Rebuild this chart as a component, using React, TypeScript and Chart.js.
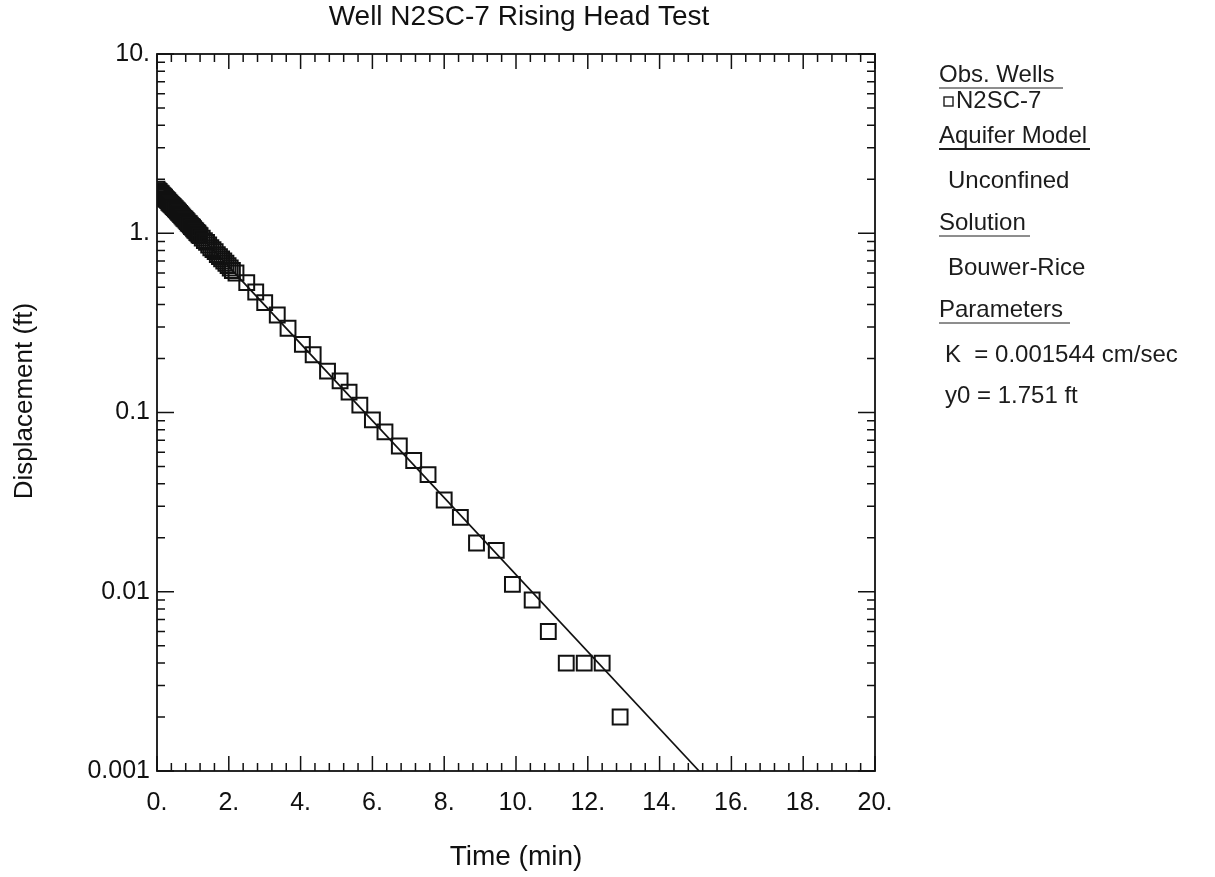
import React, { useEffect, useRef } from "react";
import { Chart, registerables } from "chart.js";

Chart.register(...registerables);

// Observed displacement for well N2SC-7 (minutes, feet)
const timeMin = [
  0, 0.03, 0.06, 0.09, 0.12, 0.15, 0.18, 0.21, 0.24, 0.27, 0.3, 0.33, 0.36, 0.39, 0.42, 0.45,
  0.48, 0.51, 0.54, 0.57, 0.6, 0.63, 0.66, 0.69, 0.72, 0.75, 0.78, 0.81, 0.84, 0.87, 0.9,
  0.93, 0.96, 0.99, 1.02, 1.05, 1.08, 1.11, 1.14, 1.17, 1.2,
  1.26, 1.32, 1.38, 1.44, 1.5, 1.56, 1.62, 1.68, 1.74, 1.8, 1.86, 1.92, 1.98, 2.04, 2.1, 2.2,
  2.5, 2.75, 3.0, 3.35, 3.65, 4.05, 4.35, 4.75, 5.1, 5.35, 5.65, 6.0, 6.35, 6.75, 7.15,
  7.55, 8.0, 8.45, 8.9, 9.45, 9.9, 10.45, 10.9, 11.4, 11.9, 12.4, 12.9,
];
const displacementFt = [
  1.76, 1.73, 1.71, 1.68, 1.66, 1.63, 1.61, 1.59, 1.56, 1.54, 1.52, 1.49, 1.47, 1.45, 1.43, 1.41,
  1.39, 1.37, 1.35, 1.33, 1.31, 1.29, 1.27, 1.25, 1.23, 1.21, 1.2, 1.18, 1.16, 1.14, 1.13,
  1.11, 1.09, 1.08, 1.06, 1.04, 1.03, 1.01, 1.0, 0.98, 0.97,
  0.94, 0.91, 0.89, 0.86, 0.83, 0.81, 0.79, 0.76, 0.74, 0.72, 0.7, 0.68, 0.66, 0.64, 0.62, 0.6,
  0.53, 0.47, 0.41, 0.35, 0.295, 0.24, 0.21, 0.17, 0.15, 0.13, 0.11, 0.091, 0.078, 0.065, 0.054,
  0.045, 0.0325, 0.026, 0.0187, 0.017, 0.011, 0.009, 0.006, 0.004, 0.004, 0.004, 0.002,
];

// Bouwer-Rice straight-line fit: starts at y0 and reaches the axis floor
const fitTimeMin = [0, 15.1];
const fitDisplacementFt = [1.751, 0.001];

// Axis ticks and labels
const xMajorTicks = [0, 2, 4, 6, 8, 10, 12, 14, 16, 18, 20];
const xTickLabels = ["0.", "2.", "4.", "6.", "8.", "10.", "12.", "14.", "16.", "18.", "20."];
const xMinorStep = 0.4;
const yMajorTicks = [0.001, 0.01, 0.1, 1, 10];
const yTickLabels = ["0.001", "0.01", "0.1", "1.", "10."];
const yMinorMultipliers = [2, 3, 4, 5, 6, 7, 8, 9];

// Side panel text
const panelSections = [
  { heading: "Obs. Wells", lines: ["N2SC-7"] },
  { heading: "Aquifer Model", lines: ["Unconfined"] },
  { heading: "Solution", lines: ["Bouwer-Rice"] },
  { heading: "Parameters", lines: ["K  = 0.001544 cm/sec", "y0 = 1.751 ft"] },
];

const FONT = '"Liberation Sans", Arial, Helvetica, sans-serif';
const INK = "#111";
const W = 1215;
const H = 877;

const framePlugin = {
  id: "frameAndText",
  afterDraw(chart: any) {
    const { ctx, chartArea: a, scales } = chart;
    const x = scales.x;
    const y = scales.y;
    ctx.save();
    ctx.strokeStyle = INK;
    ctx.lineWidth = 1.8;
    ctx.strokeRect(a.left, a.top, a.right - a.left, a.bottom - a.top);

    // inward tick marks on all four sides
    ctx.lineWidth = 1.5;
    ctx.beginPath();
    const xMax = xMajorTicks[xMajorTicks.length - 1];
    for (let i = 0; i * xMinorStep <= xMax + 1e-9; i++) {
      const v = Math.round(i * xMinorStep * 10) / 10;
      const major = xMajorTicks.includes(v);
      const len = major ? 15 : 8;
      const px = x.getPixelForValue(v);
      ctx.moveTo(px, a.bottom);
      ctx.lineTo(px, a.bottom - len);
      ctx.moveTo(px, a.top);
      ctx.lineTo(px, a.top + len);
    }
    yMajorTicks.forEach((d, idx) => {
      const py = y.getPixelForValue(d);
      ctx.moveTo(a.left, py);
      ctx.lineTo(a.left + 17, py);
      ctx.moveTo(a.right, py);
      ctx.lineTo(a.right - 17, py);
      if (idx < yMajorTicks.length - 1) {
        yMinorMultipliers.forEach((m) => {
          const pm = y.getPixelForValue(d * m);
          ctx.moveTo(a.left, pm);
          ctx.lineTo(a.left + 8, pm);
          ctx.moveTo(a.right, pm);
          ctx.lineTo(a.right - 8, pm);
        });
      }
    });
    ctx.stroke();

    ctx.fillStyle = INK;
    const cx = (a.left + a.right) / 2;

    // chart title
    ctx.font = `28px ${FONT}`;
    ctx.textAlign = "center";
    ctx.textBaseline = "alphabetic";
    ctx.fillText("Well N2SC-7 Rising Head Test", cx + 3, 25);

    // axis titles
    ctx.fillText("Time (min)", cx, 865);
    ctx.save();
    ctx.translate(25, 401);
    ctx.rotate(-Math.PI / 2);
    ctx.font = `26px ${FONT}`;
    ctx.textBaseline = "middle";
    ctx.fillText("Displacement (ft)", 0, 0);
    ctx.restore();

    // side panel
    ctx.fillStyle = "#1c1c1c";
    ctx.strokeStyle = "#1c1c1c";
    ctx.font = `24px ${FONT}`;
    ctx.textAlign = "left";
    ctx.textBaseline = "alphabetic";
    const headingY = [82, 143, 230, 317];
    const underlineW = [124, 151, 91, 131];
    const underlineT = [1, 2, 1, 1];
    const lineY = [[108], [188], [275], [362, 403]];
    const lineX = [956, 948, 948, 945];
    panelSections.forEach((sec, i) => {
      const hx = 939;
      ctx.fillText(sec.heading, hx, headingY[i]);
      ctx.lineWidth = underlineT[i];
      ctx.beginPath();
      ctx.moveTo(hx, headingY[i] + 6);
      ctx.lineTo(hx + underlineW[i], headingY[i] + 6);
      ctx.stroke();
      sec.lines.forEach((t, j) => {
        if (i === 0) {
          ctx.lineWidth = 1.4;
          ctx.strokeRect(944, lineY[i][j] - 11, 9, 9);
        }
        ctx.fillText(t, lineX[i], lineY[i][j]);
      });
    });
    ctx.restore();
  },
};

export default function App() {
  const canvasRef = useRef<HTMLCanvasElement | null>(null);

  useEffect(() => {
    if (!canvasRef.current) return;
    const observed = timeMin.map((t, i) => ({ x: t, y: displacementFt[i] }));
    const fit = fitTimeMin.map((t, i) => ({ x: t, y: fitDisplacementFt[i] }));

    const chart = new Chart(canvasRef.current, {
      type: "scatter",
      data: {
        datasets: [
          {
            label: "N2SC-7",
            data: observed,
            pointStyle: "rect",
            pointRadius: 10.5,
            pointBorderWidth: 2,
            borderColor: INK,
            backgroundColor: "rgba(0,0,0,0)",
            showLine: false,
          },
          {
            label: "Bouwer-Rice",
            type: "line",
            data: fit,
            borderColor: INK,
            borderWidth: 1.7,
            pointRadius: 0,
            fill: false,
            showLine: true,
          } as any,
        ],
      },
      options: {
        animation: false,
        responsive: false,
        devicePixelRatio: 1,
        layout: { padding: { left: 0, right: W - 875, top: 54, bottom: 0 } },
        plugins: {
          legend: { display: false },
          title: { display: false },
          tooltip: { enabled: false },
        },
        scales: {
          x: {
            type: "linear",
            min: 0,
            max: 20,
            grid: { display: false, drawTicks: false },
            border: { display: false },
            afterBuildTicks: (s: any) => {
              s.ticks = xMajorTicks.map((v) => ({ value: v }));
            },
            afterFit: (s: any) => {
              s.height = H - 771;
            },
            ticks: {
              autoSkip: false,
              maxRotation: 0,
              padding: 17,
              color: INK,
              font: { size: 25, family: FONT },
              callback: (_v: any, i: number) => xTickLabels[i],
            },
          },
          y: {
            type: "logarithmic",
            min: 0.001,
            max: 10,
            grid: { display: false, drawTicks: false },
            border: { display: false },
            afterBuildTicks: (s: any) => {
              s.ticks = yMajorTicks.map((v) => ({ value: v }));
            },
            afterFit: (s: any) => {
              s.width = 157;
            },
            ticks: {
              autoSkip: false,
              padding: 7,
              color: INK,
              font: { size: 25, family: FONT },
              callback: (_v: any, i: number) => yTickLabels[i],
            },
          },
        },
      },
      plugins: [framePlugin],
    });
    return () => chart.destroy();
  }, []);

  return (
    <div style={{ position: "absolute", left: 0, top: 0, width: W, height: H, overflow: "hidden" }}>
      <canvas ref={canvasRef} width={W} height={H} style={{ display: "block" }} />
    </div>
  );
}
